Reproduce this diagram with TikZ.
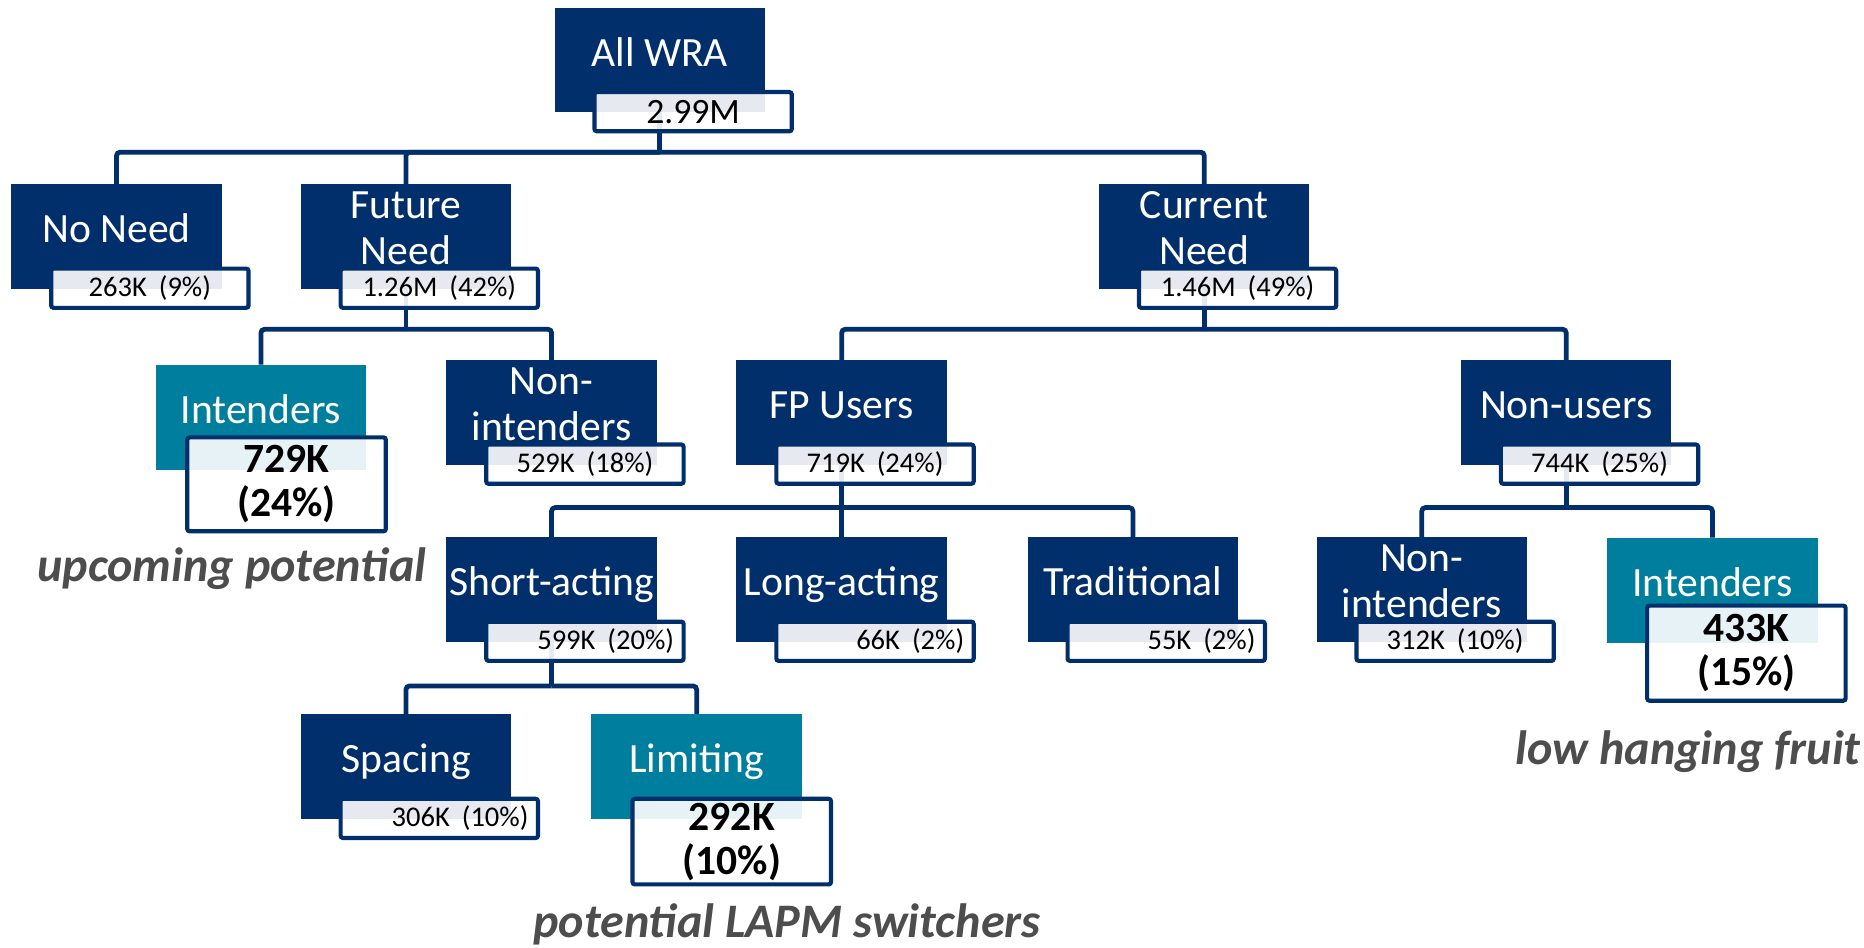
\documentclass[tikz,border=0pt]{standalone}
\usepackage{fontspec}
\setmainfont{Carlito}
\usetikzlibrary{calc}
\definecolor{navy}{RGB}{0,47,108}
\definecolor{tealbox}{RGB}{0,126,158}
\definecolor{lblgray}{RGB}{77,77,77}
\pgfdeclarelayer{bg}
\pgfsetlayers{bg,main}
\newcommand{\gap}{\hspace{0.42em}}
\begin{document}
\begin{tikzpicture}[x=1pt,y=-1pt,
  cat/.style={fill=navy, minimum width=177pt, minimum height=88pt, inner sep=0pt},
  tealcat/.style={cat, fill=tealbox},
  cattext/.style={text=white, font=\fontsize{35}{39}\selectfont, align=center, inner sep=0pt},
  one/.style={text height=0.63em, text depth=0pt, yshift=-9pt},
  val/.style={draw=navy, line width=3.5pt, rounded corners=2pt, fill=white, fill opacity=0.9, text opacity=1, draw opacity=1, minimum width=166pt, minimum height=33pt, inner sep=0pt, anchor=north west, font=\fontsize{24}{28}\selectfont},
  valr/.style={val, text width=150pt, align=right},
  big/.style={val, font=\bfseries\fontsize{35}{37}\selectfont, align=center, minimum width=167pt},
  conn/.style={draw=navy, line width=4pt, rounded corners=3pt},
  note/.style={text=lblgray, font=\bfseries\itshape\fontsize{40.5}{46}\selectfont, inner sep=0pt}
]
\useasboundingbox (0,0) rectangle (1568,797);

% category boxes
\node[cat] (wra) at (555,50.5) {};
\node[cat] (nn) at (98,199) {};
\node[cat] (fn) at (341.5,199) {};
\node[cat] (cn) at (1013,199) {};
\node[tealcat] (int1) at (219.5,351) {};
\node[cat] (nint1) at (464,347) {};
\node[cat] (fp) at (708,347) {};
\node[cat] (nu) at (1317.5,347) {};
\node[cat] (sa) at (464,496) {};
\node[cat] (la) at (708,496) {};
\node[cat] (tr) at (953,496) {};
\node[cat] (nint2) at (1196,496) {};
\node[tealcat] (int2) at (1440.5,496.5) {};
\node[cat] (sp) at (341.5,645) {};
\node[tealcat] (lim) at (586,645) {};

% category texts
\node[cattext,one] (wrat) at ([yshift=7pt]wra.center) {All WRA};
\node[cattext,one] (nnt) at ([yshift=7pt]nn.center) {No Need};
\node[cattext] (fnt) at ([yshift=7pt]fn.center) {Future\\Need};
\node[cattext] (cnt) at ([yshift=7pt]cn.center) {Current\\Need};
\node[cattext,one] (int1t) at ([yshift=7pt]int1.center) {Intenders};
\node[cattext] (nint1t) at ([yshift=7pt]nint1.center) {Non-\\intenders};
\node[cattext,one] (fpt) at ([yshift=7pt]fp.center) {FP Users};
\node[cattext,one] (nut) at ([yshift=7pt]nu.center) {Non-users};
\node[cattext,one] (sat) at ([yshift=7pt]sa.center) {Short-acting};
\node[cattext,one] (lat) at ([yshift=7pt]la.center) {Long-acting};
\node[cattext,one] (trt) at ([yshift=7pt]tr.center) {Traditional};
\node[cattext] (nint2t) at ([yshift=7pt]nint2.center) {Non-\\intenders};
\node[cattext,one] (int2t) at ([yshift=7pt]int2.center) {Intenders};
\node[cattext,one] (spt) at ([yshift=7pt]sp.center) {Spacing};
\node[cattext,one] (limt) at ([yshift=7pt]lim.center) {Limiting};

% value boxes
\node[val, font=\fontsize{30}{34}\selectfont] (wrav) at ([xshift=32pt,yshift=19pt]wra.south west) {2.99M};
\node[val] (nnv) at ([xshift=32pt,yshift=19pt]nn.south west) {263K\gap(9\%)};
\node[val] (fnv) at ([xshift=32pt,yshift=19pt]fn.south west) {1.26M\gap(42\%)};
\node[val] (cnv) at ([xshift=32pt,yshift=19pt]cn.south west) {1.46M\gap(49\%)};
\node[big, minimum height=79pt] (int1v) at ([xshift=25pt,yshift=29pt]int1.south west) {729K\\(24\%)};
\node[val] (nint1v) at ([xshift=32pt,yshift=19pt]nint1.south west) {529K\gap(18\%)};
\node[val] (fpv) at ([xshift=32pt,yshift=19pt]fp.south west) {719K\gap(24\%)};
\node[val] (nuv) at ([xshift=32pt,yshift=19pt]nu.south west) {744K\gap(25\%)};
\node[valr] (sav) at ([xshift=32pt,yshift=19pt]sa.south west) {599K\gap(20\%)};
\node[valr] (lav) at ([xshift=32pt,yshift=19pt]la.south west) {66K\gap(2\%)};
\node[valr] (trv) at ([xshift=32pt,yshift=19pt]tr.south west) {55K\gap(2\%)};
\node[val] (nint2v) at ([xshift=32pt,yshift=19pt]nint2.south west) {312K\gap(10\%)};
\node[big, minimum height=80pt] (int2v) at ([xshift=32pt,yshift=33pt]int2.south west) {433K\\(15\%)};
\node[valr] (spv) at ([xshift=32pt,yshift=19pt]sp.south west) {306K\gap(10\%)};
\node[big, minimum height=72pt] (limv) at ([xshift=33pt,yshift=19pt]lim.south west) {292K\\(10\%)};

% annotations
\node[note] (l1) at (195,478) {upcoming potential};
\node[note] (l2) at (662,778) {potential LAPM switchers};
\node[note] (l3) at (1420,632) {low hanging fruit};

% connectors
\begin{pgfonlayer}{bg}
\coordinate (b0) at (555,128);
\coordinate (bfn) at (341.5,277);
\coordinate (bcn) at (1013,277);
\coordinate (bfp) at (708,427);
\coordinate (bnu) at (1317.5,427);
\coordinate (bsa) at (464,577);
\draw[conn] (wra.center) -- (b0);
\draw[conn] (b0) -| (nn.north);
\draw[conn] (b0) -| (fn.north);
\draw[conn] (b0) -| (cn.north);
\draw[conn] (fn.center) -- (bfn);
\draw[conn] (bfn) -| (int1.north);
\draw[conn] (bfn) -| (nint1.north);
\draw[conn] (cn.center) -- (bcn);
\draw[conn] (bcn) -| (fp.north);
\draw[conn] (bcn) -| (nu.north);
\draw[conn] (fp.center) -- (bfp);
\draw[conn] (bfp) -| (sa.north);
\draw[conn] (bfp) -| (la.north);
\draw[conn] (bfp) -| (tr.north);
\draw[conn] (nu.center) -- (bnu);
\draw[conn] (bnu) -| (nint2.north);
\draw[conn] (bnu) -| (int2.north);
\draw[conn] (sa.center) -- (bsa);
\draw[conn] (bsa) -| (sp.north);
\draw[conn] (bsa) -| (lim.north);
\end{pgfonlayer}
\end{tikzpicture}
\end{document}
